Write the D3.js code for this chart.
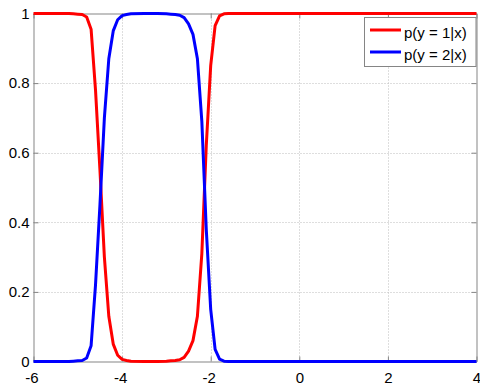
<!DOCTYPE html>
<html>

<head>
    <meta charset="utf-8">
    <title>p(y|x)</title>
    <style>
        body { margin: 0; background: #fff; }
        text { font-family: "Liberation Sans", Arial, sans-serif; font-size: 15px; fill: #000; }
    </style>
</head>

<body>
    <script src="https://d3js.org/d3.v7.min.js"></script>
    <script>
    // sample positions and the two posteriors
    var xVals = [-6, -5.2, -5.1, -5.0, -4.9, -4.8, -4.7, -4.6, -4.5, -4.4, -4.3, -4.2, -4.1, -4.0, -3.9, -3.8,
        -3.5, -3.2, -3.0, -2.9, -2.8, -2.7, -2.6, -2.5, -2.4, -2.3, -2.2, -2.1, -2.0, -1.9, -1.8, -1.7, -1.6, 4];
    var p1 = [1, 1, 0.999, 0.998, 0.997, 0.99, 0.955, 0.78, 0.55, 0.30, 0.13, 0.05, 0.018, 0.006, 0.003, 0.001,
        0, 0, 0.001, 0.002, 0.003, 0.005, 0.012, 0.03, 0.06, 0.13, 0.31, 0.62, 0.85, 0.965, 0.993, 0.999, 1, 1];
    var p2 = [0, 0, 0.001, 0.002, 0.003, 0.01, 0.045, 0.22, 0.45, 0.70, 0.87, 0.95, 0.982, 0.994, 0.997, 0.999,
        1, 1, 0.999, 0.998, 0.997, 0.995, 0.988, 0.97, 0.94, 0.87, 0.69, 0.38, 0.15, 0.035, 0.007, 0.001, 0, 0];
    var xTicks = [-6, -4, -2, 0, 2, 4];
    var yTicks = [0, 0.2, 0.4, 0.6, 0.8, 1];
    var legendLabels = ["p(y = 1|x)", "p(y = 2|x)"];
    var colors = ["#ff0000", "#0000ff"];

    var width = 480, height = 385;
    // plot box edges (names avoid window.top)
    var mLeft = 33.5, mRight = 476.5, mTop = 13.5, mBottom = 361.5;

    var x = d3.scaleLinear().domain([-6, 4]).range([mLeft, mRight]);
    var y = d3.scaleLinear().domain([0, 1]).range([mBottom, mTop]);

    var svg = d3.select("body").append("svg")
        .attr("width", width)
        .attr("height", height);

    // dotted grid
    var grid = svg.append("g").attr("stroke", "#bdbdbd").attr("stroke-dasharray", "1,2");
    grid.selectAll(".gx").data(xTicks.slice(1, -1)).enter().append("line")
        .attr("x1", d => Math.round(x(d)) + 0.5).attr("x2", d => Math.round(x(d)) + 0.5)
        .attr("y1", mTop).attr("y2", mBottom);
    grid.selectAll(".gy").data(yTicks.slice(1, -1)).enter().append("line")
        .attr("y1", d => Math.round(y(d)) + 0.5).attr("y2", d => Math.round(y(d)) + 0.5)
        .attr("x1", mLeft).attr("x2", mRight);

    // axes, ticks pointing inward
    var fmt = d => String(d);
    var xAxis = svg.append("g").attr("transform", "translate(0," + mBottom + ")")
        .call(d3.axisBottom(x).tickValues(xTicks).tickSizeInner(-5).tickSizeOuter(0).tickPadding(11).tickFormat(fmt));
    // matlab hangs the minus sign a bit to the left
    xAxis.selectAll(".tick text").attr("dx", d => d < 0 ? -2 : 0);
    svg.append("g").attr("transform", "translate(" + mLeft + ",0)")
        .call(d3.axisLeft(y).tickValues(yTicks).tickSizeInner(-5).tickSizeOuter(0).tickPadding(4).tickFormat(fmt));
    svg.append("g").attr("transform", "translate(0," + mTop + ")")
        .call(d3.axisTop(x).tickValues(xTicks).tickSizeInner(-5).tickSizeOuter(0).tickFormat(""));
    svg.append("g").attr("transform", "translate(" + mRight + ",0)")
        .call(d3.axisRight(y).tickValues(yTicks).tickSizeInner(-5).tickSizeOuter(0).tickFormat(""));

    svg.selectAll(".domain, .tick line").attr("stroke", "#858585");
    svg.selectAll(".tick text").attr("fill", "#000")
        .style("font-family", "'Liberation Sans', Arial, sans-serif").style("font-size", "15px");

    // curves
    var series = [p1, p2];
    series.forEach(function(vals, i) {
        var line = d3.line()
            .x((d, j) => x(xVals[j]))
            .y(d => y(d));
        svg.append("path")
            .datum(vals)
            .attr("d", line)
            .attr("fill", "none")
            .attr("stroke", colors[i])
            .attr("stroke-width", 3)
            .attr("stroke-linejoin", "round");
    });

    // legend
    var lg = svg.append("g");
    lg.append("rect")
        .attr("x", 364.5).attr("y", 17.5)
        .attr("width", 111.5).attr("height", 49)
        .attr("fill", "#fff").attr("stroke", "#858585");
    var row = lg.selectAll(".row").data(legendLabels).enter().append("g")
        .attr("transform", (d, i) => "translate(0," + (30 + i * 22) + ")");
    row.append("line")
        .attr("x1", 370).attr("x2", 401)
        .attr("stroke", (d, i) => colors[i])
        .attr("stroke-width", 3);
    row.append("text")
        .attr("x", 404).attr("y", 8)
        .text(d => d);
    </script>
</body>

</html>
